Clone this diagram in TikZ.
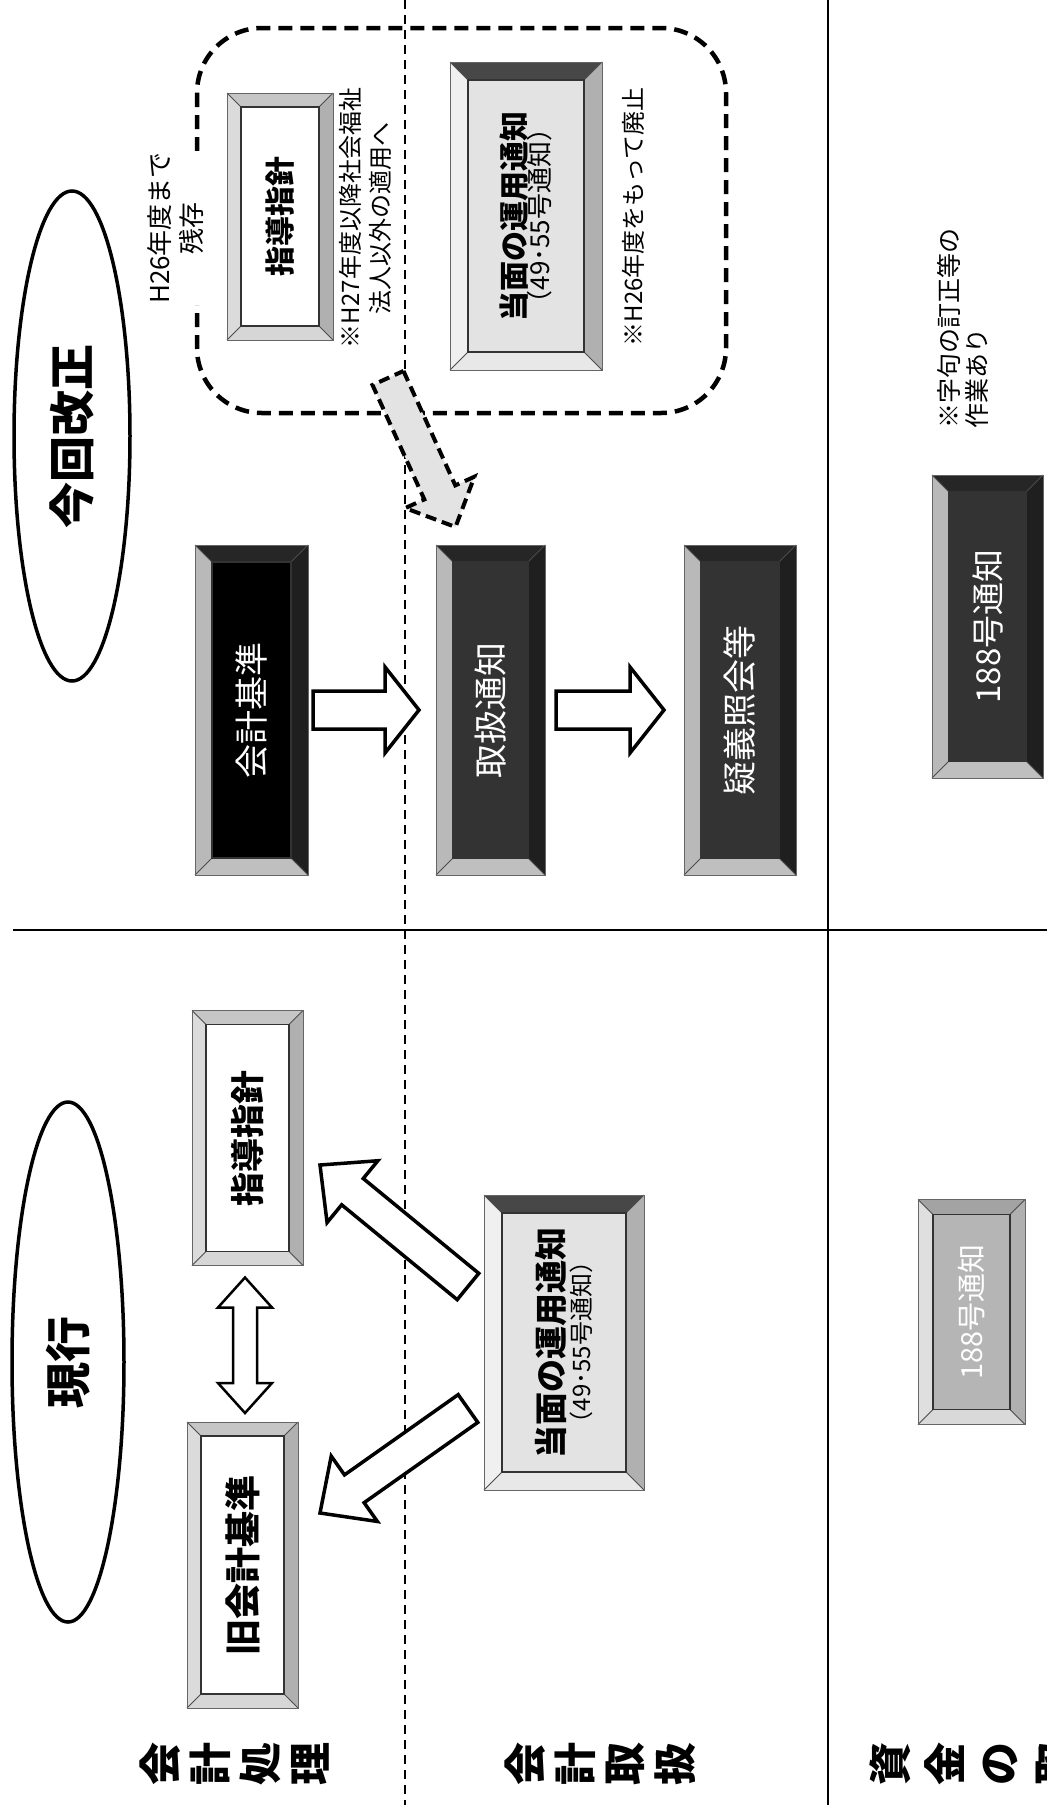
\documentclass[tikz,border=0pt]{standalone}
\usepackage{fontspec}
\setmainfont{Noto Sans CJK JP}
\usetikzlibrary{calc,shapes.geometric}
\tikzset{
  white-left/.style={fill=gray!28}, white-top/.style={fill=gray!45}, white-right/.style={fill=gray!62}, white-bottom/.style={fill=gray!32}, white-in/.style={fill=white},
  light-left/.style={fill=gray!12}, light-top/.style={fill=black!72}, light-right/.style={fill=gray!62}, light-bottom/.style={fill=gray!18}, light-in/.style={fill=gray!22},
  black-left/.style={fill=gray!55}, black-top/.style={fill=black!85}, black-right/.style={fill=black!88}, black-bottom/.style={fill=gray!50}, black-in/.style={fill=black},
  dark-left/.style={fill=gray!55}, dark-top/.style={fill=black!85}, dark-right/.style={fill=black!88}, dark-bottom/.style={fill=gray!50}, dark-in/.style={fill=black!80},
  mid-left/.style={fill=gray!25}, mid-top/.style={fill=gray!72}, mid-right/.style={fill=gray!62}, mid-bottom/.style={fill=gray!30}, mid-in/.style={fill=gray!58},
  blockarrow/.style={draw=black, line width=3.5pt, fill=white, line join=miter},
  dasharrow/.style={draw=black, line width=4pt, dash pattern=on 11pt off 6pt, fill=gray!22, line join=miter},
  boxtext/.style={rotate=90, inner sep=0pt, align=center},
  note/.style={rotate=90, inner sep=1pt, font=\fontsize{24}{30}\selectfont},
  rowlab/.style={rotate=90, inner sep=0pt, font=\fontsize{43}{43}\selectfont\bfseries},
  ovaltext/.style={ellipse, draw, line width=3.5pt, rotate=90, inner sep=0pt, font=\fontsize{46}{46}\selectfont\bfseries},
}
\newcommand{\bvbox}[7]{%
  \node[minimum width=#4pt, minimum height=#5pt, inner sep=0pt, outer sep=0pt] (#1) at (#2,#3) {};
  \fill[#7-top] (#1.north west) -- (#1.north east) -- ($(#1.north east)+(-#6pt,-#6pt)$) -- ($(#1.north west)+(#6pt,-#6pt)$) -- cycle;
  \fill[#7-bottom] (#1.south west) -- (#1.south east) -- ($(#1.south east)+(-#6pt,#6pt)$) -- ($(#1.south west)+(#6pt,#6pt)$) -- cycle;
  \fill[#7-left] (#1.north west) -- (#1.south west) -- ($(#1.south west)+(#6pt,#6pt)$) -- ($(#1.north west)+(#6pt,-#6pt)$) -- cycle;
  \fill[#7-right] (#1.north east) -- (#1.south east) -- ($(#1.south east)+(-#6pt,#6pt)$) -- ($(#1.north east)+(-#6pt,-#6pt)$) -- cycle;
  \fill[#7-in] ($(#1.north west)+(#6pt,-#6pt)$) rectangle ($(#1.south east)+(-#6pt,#6pt)$);
  \draw[black!70, line width=0.8pt] (#1.north west) -- ($(#1.north west)+(#6pt,-#6pt)$)
     (#1.north east) -- ($(#1.north east)+(-#6pt,-#6pt)$)
     (#1.south west) -- ($(#1.south west)+(#6pt,#6pt)$)
     (#1.south east) -- ($(#1.south east)+(-#6pt,#6pt)$);
  \draw[black!80, line width=1.2pt] ($(#1.north west)+(#6pt,-#6pt)$) rectangle ($(#1.south east)+(-#6pt,#6pt)$);
  \draw[black!60, line width=1pt] (#1.north west) rectangle (#1.south east);
}
\newcommand{\barrow}[7]{%
  \coordinate (#1h) at ($(#3)!#6pt!(#2)$);
  \draw[#7] ($(#2)!#4pt!90:(#3)$) -- ($(#1h)!#4pt!90:(#3)$) -- ($(#1h)!#5pt!90:(#3)$) -- (#3)
    -- ($(#1h)!#5pt!-90:(#3)$) -- ($(#1h)!#4pt!-90:(#3)$) -- ($(#2)!#4pt!-90:(#3)$) -- cycle;
}
\newcommand{\dbarrow}[7]{%
  \coordinate (#1h) at ($(#3)!#6pt!(#2)$);
  \coordinate (#1g) at ($(#2)!#6pt!(#3)$);
  \draw[#7] (#2) -- ($(#1g)!#5pt!-90:(#3)$) -- ($(#1g)!#4pt!-90:(#3)$) -- ($(#1h)!#4pt!-90:(#3)$)
    -- ($(#1h)!#5pt!-90:(#3)$) -- (#3) -- ($(#1h)!#5pt!90:(#3)$) -- ($(#1h)!#4pt!90:(#3)$)
    -- ($(#1g)!#4pt!90:(#3)$) -- ($(#1g)!#5pt!90:(#3)$) -- cycle;
}
\begin{document}
\begin{tikzpicture}[x=1pt, y=-1pt]
\useasboundingbox (0,0) rectangle (1047,1805);
% grid lines
\coordinate (vd1) at (405,0); \coordinate (vd2) at (405,1805);
\coordinate (vs1) at (828,0); \coordinate (vs2) at (828,1805);
\coordinate (hs1) at (13,930); \coordinate (hs2) at (1047,930);
\draw[line width=1.3pt, dash pattern=on 9pt off 6pt] (vd1) -- (vd2);
\draw[line width=2pt] (vs1) -- (vs2);
\draw[line width=2pt] (hs1) -- (hs2);

% ovals
\node[ovaltext, minimum width=490pt, minimum height=116pt] (kaisei) at (72,436) {今回改正};
\node[ovaltext, minimum width=520pt, minimum height=112pt] (genkou) at (68,1362) {現行};

% dashed group
\draw[line width=4.5pt, dash pattern=on 14pt off 8pt, rounded corners=65pt] (197,28) rectangle (726,413);

% boxes
\bvbox{shidouA}{280}{216.5}{106}{247}{14}{white}
\node[boxtext, font=\fontsize{30}{36}\selectfont\bfseries] (shidouAt) at (shidouA) {指導指針};
\bvbox{toumenA}{526}{216}{152}{308}{18}{light}
\node[boxtext] (toumenAt) at (toumenA) {{\fontsize{30}{36}\selectfont\bfseries 当面の運用通知}\\[-2pt]{\fontsize{26}{30}\selectfont （49･55号通知）}};
\bvbox{kaikei}{251.5}{710}{113}{330}{17}{black}
\node[boxtext, text=white, font=\fontsize{34}{40}\selectfont] (kaikeit) at (kaikei) {会計基準};
\bvbox{toriatsukai}{490.5}{710}{109}{330}{17}{dark}
\node[boxtext, text=white, font=\fontsize{34}{40}\selectfont] (toriatsukait) at (toriatsukai) {取扱通知};
\bvbox{gigi}{740}{710}{112}{330}{17}{dark}
\node[boxtext, text=white, font=\fontsize{34}{40}\selectfont] (gigit) at (gigi) {疑義照会等};
\bvbox{tsuchiA}{987.5}{626.5}{111}{303}{17}{dark}
\node[boxtext, text=white, font=\fontsize{33}{40}\selectfont] (tsuchiAt) at (tsuchiA) {188号通知};

\bvbox{shidouB}{247.5}{1138}{111}{255}{14}{white}
\node[boxtext, font=\fontsize{34}{40}\selectfont\bfseries] (shidouBt) at (shidouB) {指導指針};
\bvbox{kyuu}{242.5}{1565}{111}{286}{14}{white}
\node[boxtext, font=\fontsize{36}{40}\selectfont\bfseries] (kyuut) at (kyuu) {旧会計基準};
\bvbox{toumenB}{564}{1342.5}{160}{295}{18}{light}
\node[boxtext] (toumenBt) at (toumenB) {{\fontsize{33}{38}\selectfont\bfseries 当面の運用通知}\\[2pt]{\fontsize{24}{28}\selectfont （49･55号通知）}};
\bvbox{tsuchiB}{971.5}{1312}{107}{225}{15}{mid}
\node[boxtext, text=white, font=\fontsize{29}{34}\selectfont] (tsuchiBt) at (tsuchiB) {188号通知};

% notes
\node[note, fill=white, align=center, font=\fontsize{26}{32}\selectfont] (h26) at (176,228) {H26年度まで\\残存};
\node[note, align=center] (h27) at (365,218) {※H27年度以降社会福祉\\法人以外の適用へ};
\node[note] (haishi) at (633,217) {※H26年度をもって廃止};
\node[note, align=left, font=\fontsize{25}{28}\selectfont] (jiku) at (963,328) {※字句の訂正等の\\作業あり};

% arrows
\coordinate (a1s) at ($(kaikei.east)+(5pt,0pt)$);
\coordinate (a1e) at ($(toriatsukai.west)+(-17pt,0pt)$);
\barrow{a1}{a1s}{a1e}{19}{43}{34}{blockarrow}
\coordinate (a2s) at ($(toriatsukai.east)+(11pt,0pt)$);
\coordinate (a2e) at ($(gigi.west)+(-20pt,0pt)$);
\barrow{a2}{a2s}{a2e}{19}{43}{34}{blockarrow}
\coordinate (a3s) at ($(toumenA.south west)+(-62pt,-8pt)$);
\coordinate (a3e) at ($(toriatsukai.north)+(-35pt,18pt)$);
\barrow{a3}{a3s}{a3e}{17}{38}{38}{dasharrow}
\coordinate (a4s) at ($(toumenB.west)+(-16pt,56pt)$);
\coordinate (a4e) at ($(shidouB.east)+(17pt,-27pt)$);
\barrow{a4}{a4s}{a4e}{17}{40}{42}{blockarrow}
\coordinate (a5s) at ($(toumenB.west)+(-16pt,-66pt)$);
\coordinate (a5e) at ($(kyuu.east)+(22pt,52pt)$);
\barrow{a5}{a5s}{a5e}{17}{40}{42}{blockarrow}
\coordinate (a6s) at ($(shidouB.south)+(-2.5pt,-12pt)$);
\coordinate (a6e) at ($(kyuu.north)+(2.5pt,9pt)$);
\dbarrow{a6}{a6s}{a6e}{12}{27}{30}{blockarrow, line width=2.5pt}

% row labels
\foreach \c/\x [count=\i] in {会/160, 計/210, 処/260, 理/310}
  \node[rowlab] (rA\i) at (\x,1764) {\c};
\foreach \c/\x [count=\i] in {会/525, 計/575, 取/625, 扱/675}
  \node[rowlab] (rB\i) at (\x,1764) {\c};
\foreach \c/\x [count=\i] in {資/890, 金/945, の/1000, 取/1055}
  \node[rowlab] (rC\i) at (\x,1764) {\c};
\end{tikzpicture}
\end{document}
